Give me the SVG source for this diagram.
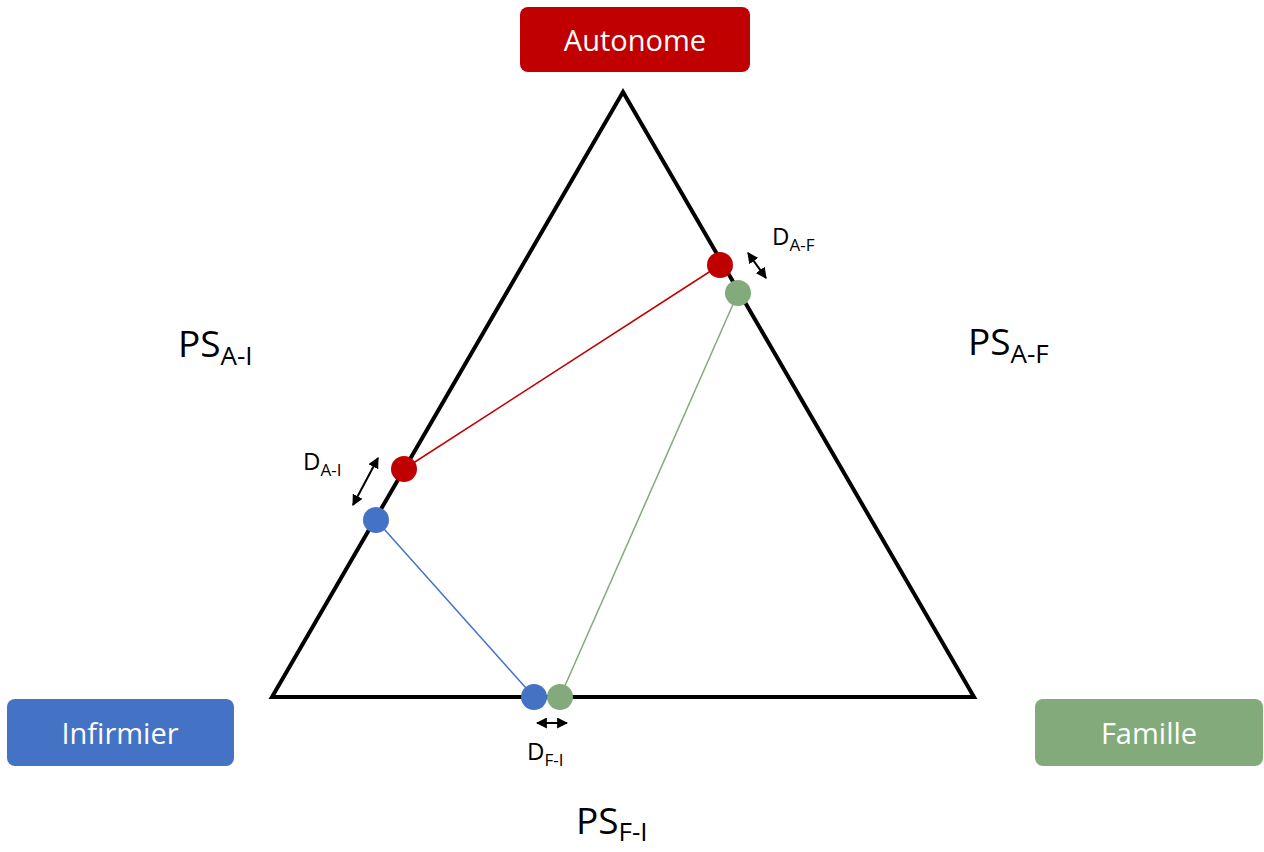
<svg xmlns="http://www.w3.org/2000/svg" width="1264" height="852" viewBox="0 0 1264 852">
<defs>
<marker id="ah" viewBox="0 0 10 10" refX="9" refY="5" markerWidth="5.5" markerHeight="5.5" orient="auto-start-reverse"><path d="M0,0 L10,5 L0,10 z" fill="#000"/></marker>
<style>
.lbl{font-family:"Open Sans","Liberation Sans",sans-serif;fill:#000}
.box{font-family:"Open Sans","Liberation Sans",sans-serif;fill:#fff;font-size:29px;text-anchor:middle}
.ps{font-size:37px}
.d{font-size:24px}
.dbl{stroke:#000;stroke-width:2;fill:none;marker-start:url(#ah);marker-end:url(#ah)}
</style>
</defs>
<rect width="1264" height="852" fill="#fff"/>
<g id="triangle"><polygon points="623,92 272,697 974,697" fill="none" stroke="#000" stroke-width="4" stroke-linejoin="miter"/></g>
<g id="connectors">
<line x1="404" y1="469" x2="720" y2="265" stroke="#C00000" stroke-width="1.5"/>
<line x1="738" y1="293" x2="560" y2="697" stroke="#82AA7A" stroke-width="1.5"/>
<line x1="376" y1="520" x2="534" y2="697" stroke="#4472C4" stroke-width="1.5"/>
<line class="dbl" x1="748" y1="253" x2="766" y2="278"/>
<line class="dbl" x1="378" y1="458" x2="353" y2="505"/>
<line class="dbl" x1="537" y1="723" x2="567" y2="723"/>
</g>
<g id="autonome"><rect x="520" y="7" width="230" height="65" rx="8" fill="#C00000"/><text class="box" x="635" y="51">Autonome</text></g>
<g id="infirmier"><rect x="7" y="699" width="227" height="67" rx="8" fill="#4472C4"/><text class="box" x="120" y="744">Infirmier</text></g>
<g id="famille"><rect x="1035" y="699" width="228" height="67" rx="8" fill="#82AA7A"/><text class="box" x="1149" y="744">Famille</text></g>
<g id="dot-red-af"><circle cx="720" cy="265" r="13" fill="#C00000"/></g>
<g id="dot-green-af"><circle cx="738" cy="293" r="13" fill="#82AA7A"/></g>
<g id="dot-red-ai"><circle cx="404" cy="469" r="13" fill="#C00000"/></g>
<g id="dot-blue-ai"><circle cx="376" cy="520" r="13" fill="#4472C4"/></g>
<g id="dot-blue-fi"><circle cx="534" cy="697" r="13" fill="#4472C4"/></g>
<g id="dot-green-fi"><circle cx="560" cy="697" r="13" fill="#82AA7A"/></g>
<g id="labels">
<text class="lbl ps" x="178" y="357">PS<tspan font-size="26" dy="8">A-I</tspan></text>
<text class="lbl ps" x="968" y="355">PS<tspan font-size="26" dy="8">A-F</tspan></text>
<text class="lbl ps" x="576" y="834">PS<tspan font-size="26" dy="7">F-I</tspan></text>
<text class="lbl d" x="772" y="245">D<tspan font-size="17" dy="6">A-F</tspan></text>
<text class="lbl d" x="303" y="470">D<tspan font-size="17" dy="6">A-I</tspan></text>
<text class="lbl d" x="527" y="760">D<tspan font-size="17" dy="6">F-I</tspan></text>
</g>
</svg>
